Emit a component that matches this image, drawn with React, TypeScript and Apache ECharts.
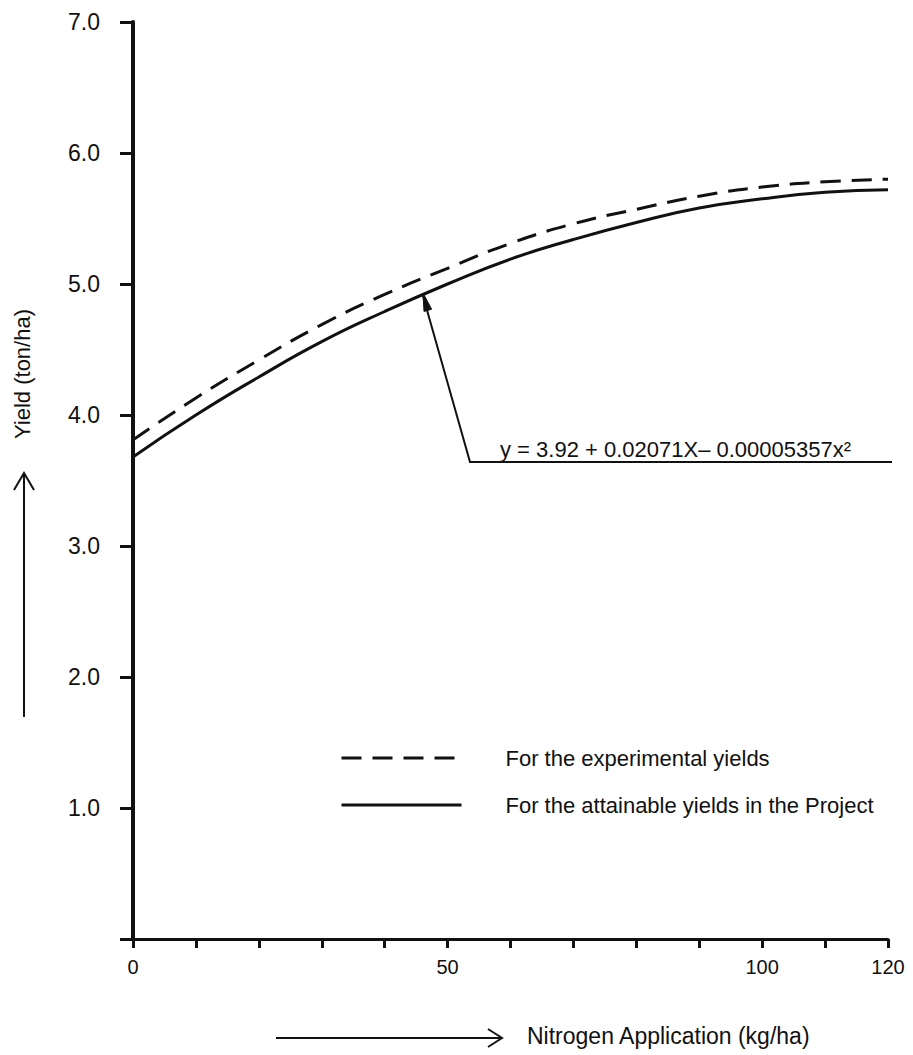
import React, { useEffect, useRef } from "react";
import * as echarts from "echarts";

// Nitrogen application (kg/ha)
const nitrogen = [0, 10, 20, 30, 40, 50, 60, 70, 80, 90, 100, 110, 120];
// Dashed curve: experimental yields (ton/ha)
const experimental = [3.81, 4.13, 4.42, 4.69, 4.92, 5.12, 5.31, 5.46, 5.57, 5.67, 5.74, 5.78, 5.8];
// Solid curve: attainable yields in the Project (ton/ha)
const attainable = [3.68, 4.0, 4.29, 4.56, 4.79, 5.0, 5.19, 5.34, 5.47, 5.58, 5.65, 5.7, 5.72];

const xLabelValues = [0, 50, 100, 120];
const legendNames = ["For the experimental yields", "For the attainable yields in the Project"];
const equationText = "y = 3.92 + 0.02071X\u2013 0.00005357x\u00b2";
const xTitle = "Nitrogen Application (kg/ha)";
const yTitle = "Yield (ton/ha)";

const FONT = "'Liberation Sans', Arial, Helvetica, sans-serif";
const INK = "#111111";

export default function App() {
  const ref = useRef<HTMLDivElement>(null);

  useEffect(() => {
    if (!ref.current) return;
    const chart = echarts.init(ref.current, null, { renderer: "svg" });

    const option: any = {
      animation: false,
      backgroundColor: "#ffffff",
      grid: { left: 133, right: 25, top: 22, bottom: 116, containLabel: false },
      xAxis: {
        type: "value",
        min: 0,
        max: 120,
        interval: 10,
        splitLine: { show: false },
        axisLine: { show: true, lineStyle: { color: INK, width: 3 } },
        axisTick: { show: true, inside: false, length: 9, lineStyle: { color: INK, width: 3 } },
        axisLabel: {
          show: true,
          margin: 18,
          fontSize: 20,
          fontFamily: FONT,
          color: INK,
          showMaxLabel: true,
          showMinLabel: true,
          formatter: (v: number) => (xLabelValues.indexOf(v) >= 0 ? String(v) : ""),
        },
      },
      yAxis: {
        type: "value",
        min: 0,
        max: 7,
        interval: 1,
        splitLine: { show: false },
        axisLine: { show: true, lineStyle: { color: INK, width: 4 } },
        axisTick: { show: true, inside: false, length: 13, lineStyle: { color: INK, width: 3 } },
        axisLabel: {
          show: true,
          margin: 33,
          fontSize: 23,
          fontFamily: FONT,
          color: INK,
          formatter: (v: number) => (v === 0 ? "" : v.toFixed(1)),
        },
      },
      legend: {
        orient: "vertical",
        left: 335,
        top: 742,
        itemWidth: 120,
        itemHeight: 22,
        itemGap: 25,
        selectedMode: false,
        data: legendNames,
        itemStyle: { opacity: 0, borderWidth: 0 },
        lineStyle: { width: 3 },
        textStyle: { fontSize: 22, color: INK, fontFamily: FONT, padding: [0, 0, 0, 39] },
      },
      series: [
        {
          name: legendNames[0],
          type: "line",
          smooth: true,
          symbol: "none",
          showSymbol: false,
          data: nitrogen.map((x, i) => [x, experimental[i]]),
          lineStyle: { color: INK, width: 3, type: [20, 11] },
          itemStyle: { color: INK },
        },
        {
          name: legendNames[1],
          type: "line",
          smooth: true,
          symbol: "none",
          showSymbol: false,
          data: nitrogen.map((x, i) => [x, attainable[i]]),
          lineStyle: { color: INK, width: 3, type: "solid" },
          itemStyle: { color: INK },
        },
      ],
      graphic: [
        // regression annotation: leader line + underline + arrowhead
        {
          type: "polyline",
          shape: { points: [[423, 296], [470, 462], [892, 462]] },
          style: { stroke: INK, lineWidth: 2, fill: null },
          silent: true,
        },
        {
          type: "polygon",
          shape: { points: [[423, 293], [431.6, 309.2], [424, 311.4]] },
          style: { fill: INK, stroke: INK, lineWidth: 1 },
          silent: true,
        },
        {
          type: "text",
          left: 500,
          top: 438,
          style: { text: equationText, fontSize: 22, fontFamily: FONT, fill: INK },
          silent: true,
        },
        // x title with arrow
        {
          type: "line",
          shape: { x1: 276, y1: 1038, x2: 500, y2: 1038 },
          style: { stroke: INK, lineWidth: 2 },
          silent: true,
        },
        {
          type: "polyline",
          shape: { points: [[488, 1029], [502, 1038], [488, 1047]] },
          style: { stroke: INK, lineWidth: 2, fill: null },
          silent: true,
        },
        {
          type: "text",
          x: 527,
          y: 1036,
          style: {
            text: xTitle,
            fontSize: 23,
            fontFamily: FONT,
            fill: INK,
            align: "left",
            verticalAlign: "middle",
          },
          silent: true,
        },
        // y title with arrow
        {
          type: "line",
          shape: { x1: 24, y1: 717, x2: 24, y2: 475 },
          style: { stroke: INK, lineWidth: 2 },
          silent: true,
        },
        {
          type: "polyline",
          shape: { points: [[14, 490], [24, 473], [34, 490]] },
          style: { stroke: INK, lineWidth: 2, fill: null },
          silent: true,
        },
        {
          type: "text",
          x: 22,
          y: 374,
          rotation: Math.PI / 2,
          style: {
            text: yTitle,
            fontSize: 22,
            fontFamily: FONT,
            fill: INK,
            align: "center",
            verticalAlign: "middle",
          },
          silent: true,
        },
      ],
    };

    chart.setOption(option);
    return () => chart.dispose();
  }, []);

  return (
    <div
      ref={ref}
      style={{ position: "absolute", left: 0, top: 0, width: 913, height: 1055, background: "#ffffff" }}
    />
  );
}
